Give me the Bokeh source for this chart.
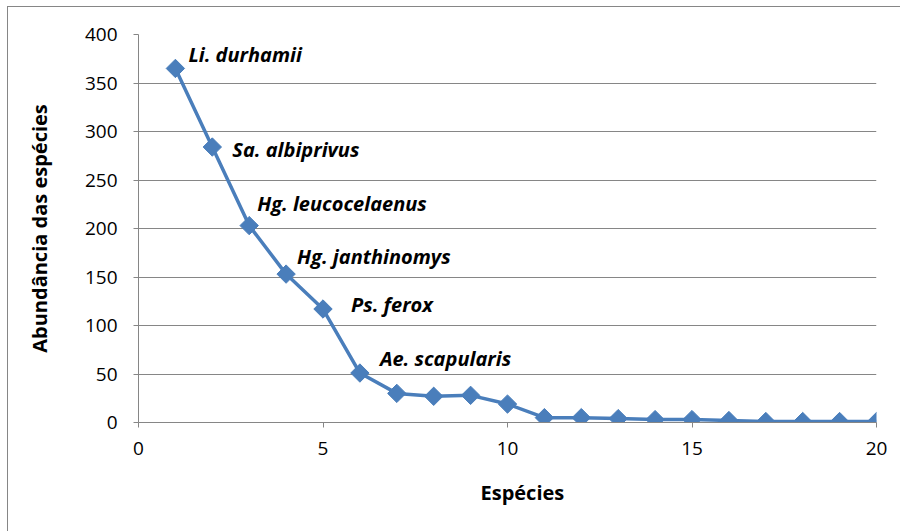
import math
from bokeh.plotting import figure
from bokeh.models import ColumnDataSource, FixedTicker, Range1d, LabelSet, Title
from bokeh.core.properties import value
from bokeh.embed import file_html
from bokeh.resources import INLINE

# ---- data ----
species_rank = list(range(1, 21))
abundance = [365, 284, 203, 153, 117, 51, 30, 27, 28, 19, 5, 5, 4, 3, 3, 2, 1, 1, 1, 1]
label_rank = [1, 2, 3, 4, 5, 6]
label_abund = [365, 284, 203, 153, 117, 51]
label_names = ["Li. durhamii", "Sa. albiprivus", "Hg. leucocelaenus",
               "Hg. janthinomys", "Ps. ferox", "Ae. scapularis"]
x_ticks = [0, 5, 10, 15, 20]
y_ticks = [0, 50, 100, 150, 200, 250, 300, 350, 400]
x_label = "Espécies"
y_label = "Abundância das espécies"

# ---- layout/style ----
label_dx = [13, 20, 8, 11, 28, 20]
label_dy = [14, -2, 22, 18, 5, 15]

FONT = "Open Sans"
BLUE = "#4A7EBB"
GRID = "#868686"

p = figure(width=893, height=525, output_backend="svg", toolbar_location=None,
           x_range=Range1d(0, 20), y_range=Range1d(0, 400),
           min_border_left=130, min_border_right=25, min_border_top=27, min_border_bottom=110)
p.styles = {"border-top": "1px solid #868686", "border-left": "1px solid #868686",
            "margin-top": "6px", "margin-left": "7px", "box-sizing": "border-box"}
p.outline_line_color = None
p.background_fill_color = "white"

src = ColumnDataSource(dict(x=species_rank, y=abundance))
p.line("x", "y", source=src, line_color=BLUE, line_width=3.5)
p.scatter("x", "y", source=src, marker="square", angle=math.pi / 4, size=13,
          fill_color=BLUE, line_color=BLUE)

lsrc = ColumnDataSource(dict(x=label_rank, y=label_abund, t=label_names, dx=label_dx, dy=label_dy))
labels = LabelSet(x="x", y="y", text="t", source=lsrc, x_offset="dx", y_offset="dy",
                  text_font=value(FONT), text_font_style="bold italic", text_font_size="20px",
                  text_color="black", text_baseline="middle", text_align="left")
p.add_layout(labels)

# axes
p.xaxis.ticker = FixedTicker(ticks=x_ticks)
p.yaxis.ticker = FixedTicker(ticks=y_ticks)
for ax in (p.xaxis, p.yaxis):
    ax.axis_line_color = GRID
    ax.major_tick_line_color = GRID
    ax.major_tick_out = 5
    ax.major_tick_in = 0
    ax.minor_tick_line_color = None
    ax.major_label_text_font = FONT
    ax.major_label_text_font_size = "19px"
    ax.major_label_text_color = "black"
    ax.axis_label_text_font = FONT
    ax.axis_label_text_font_size = "20px"
    ax.axis_label_text_font_style = "bold"
    ax.axis_label_text_color = "black"

p.yaxis.axis_label = y_label
p.xaxis.major_label_standoff = 14
p.yaxis.major_label_standoff = 16
p.yaxis.axis_label_standoff = 29

xt = Title(text=x_label, align="left", offset=342, standoff=38,
           text_font=FONT, text_font_size="20px", text_font_style="bold", text_color="black")
p.add_layout(xt, "below")

p.xgrid.grid_line_color = None
p.ygrid.grid_line_color = GRID
p.ygrid.grid_line_width = 1

open("out.html", "w").write(file_html(p, INLINE))
